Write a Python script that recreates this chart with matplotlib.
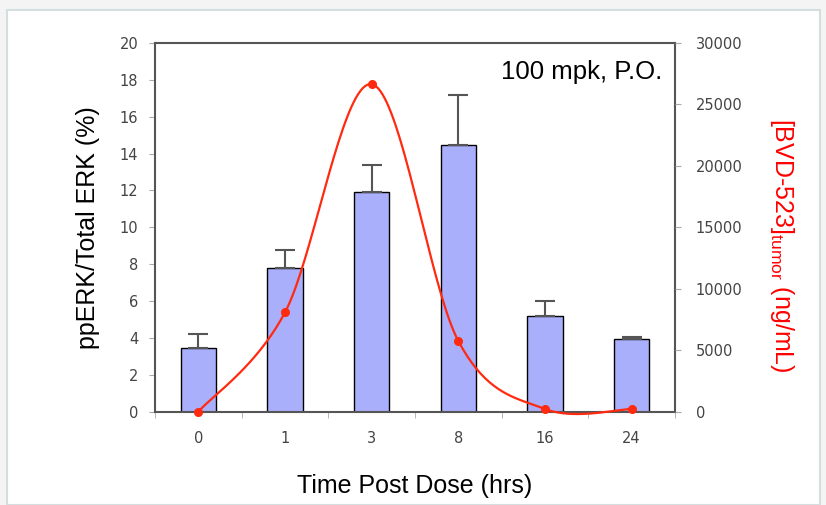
import numpy as np
import matplotlib
matplotlib.use("Agg")
from matplotlib import pyplot as plt
from matplotlib.patches import Rectangle

# data
time_labels = ["0", "1", "3", "8", "16", "24"]
perk_pct = [3.44, 7.77, 11.9, 14.45, 5.19, 3.94]
perk_err = [0.77, 0.99, 1.47, 2.75, 0.81, 0.11]
tumor_conc = [0, 8080, 26650, 5750, 220, 220]


def smooth(xs, ys, n=40):
    # Excel-style smoothed line: cubic bezier with catmull-rom controls
    px = [xs[0]] + list(xs) + [xs[-1]]
    py = [ys[0]] + list(ys) + [ys[-1]]
    t = np.linspace(0, 1, n)
    out_x, out_y = [], []
    for i in range(1, len(px) - 2):
        p0 = np.array([px[i], py[i]])
        p3 = np.array([px[i + 1], py[i + 1]])
        c1 = p0 + (np.array([px[i + 1], py[i + 1]]) - np.array([px[i - 1], py[i - 1]])) / 6
        c2 = p3 - (np.array([px[i + 2], py[i + 2]]) - np.array([px[i], py[i]])) / 6
        pts = ((1 - t) ** 3)[:, None] * p0 + (3 * (1 - t) ** 2 * t)[:, None] * c1 \
            + (3 * (1 - t) * t ** 2)[:, None] * c2 + (t ** 3)[:, None] * p3
        out_x.extend(pts[:, 0])
        out_y.extend(pts[:, 1])
    return out_x, out_y


fig = plt.figure(figsize=(8.26, 5.05), dpi=100)
fig.patch.set_facecolor("#f4f4f4")
fig.patches.append(Rectangle((7 / 826, 0), 813 / 826, 495 / 505, transform=fig.transFigure,
                             facecolor="white", edgecolor="#d5dede", linewidth=1.5, zorder=-10))

ax = fig.add_axes([155 / 826, 1 - 411.7 / 505, 520 / 826, (411.7 - 43) / 505])
ax.patch.set_alpha(0)
x = np.arange(len(time_labels))
ax.bar(x, perk_pct, width=0.41, color="#aaaffc", edgecolor="black", linewidth=1, zorder=2)
ax.errorbar(x, perk_pct, yerr=[np.zeros(len(perk_err)), perk_err], fmt="none",
            ecolor="#555555", elinewidth=1.5, capsize=7, capthick=1.5, zorder=3)
ax.set_xlim(-0.5, len(time_labels) - 0.5)
ax.set_ylim(0, 20)
ax.set_yticks(range(0, 21, 2))
ax.set_xticks(x)
ax.set_xticklabels(time_labels)
ax.set_xticks(np.arange(-0.5, len(time_labels), 1), minor=True)
ax.tick_params(axis="x", which="major", length=0, pad=14, labelsize=10.5, labelcolor="#444444")
ax.tick_params(axis="x", which="minor", length=4, color="#aaaaaa")
ax.tick_params(axis="y", length=4, color="#aaaaaa", labelsize=10.5, labelcolor="#444444", pad=8)
for s in ax.spines.values():
    s.set_color("#555555")
    s.set_linewidth(1.5)
ax.set_ylabel("ppERK/Total ERK (%)", fontsize=18, family="Liberation Sans", labelpad=14)
ax.set_xlabel("Time Post Dose (hrs)", fontsize=18, family="Liberation Sans", labelpad=20)
ax.text(0.975, 0.955, "100 mpk, P.O.", transform=ax.transAxes, ha="right", va="top",
        fontsize=18.5, family="Liberation Sans")

ax2 = ax.twinx()
sx, sy = smooth(x, tumor_conc)
ax2.plot(sx, sy, color="#ff2a10", linewidth=1.6, zorder=4, clip_on=False)
ax2.plot(x, tumor_conc, "o", color="#ff2a10", markersize=5.5, zorder=5, clip_on=False)
ax2.set_ylim(0, 30000)
ax2.set_yticks(range(0, 30001, 5000))
ax2.tick_params(axis="y", length=4, color="#aaaaaa", labelsize=10.5, labelcolor="#444444", pad=11)
for s in ax2.spines.values():
    s.set_visible(False)
ax2.set_ylabel("[BVD-523]$_{\\mathregular{tumor}}$ (ng/mL)", color="red", fontsize=18,
               family="Liberation Sans", rotation=270, va="center")
ax2.yaxis.set_label_coords(1.206, 0.45)

plt.savefig("out.png", dpi=100, facecolor=fig.get_facecolor())
